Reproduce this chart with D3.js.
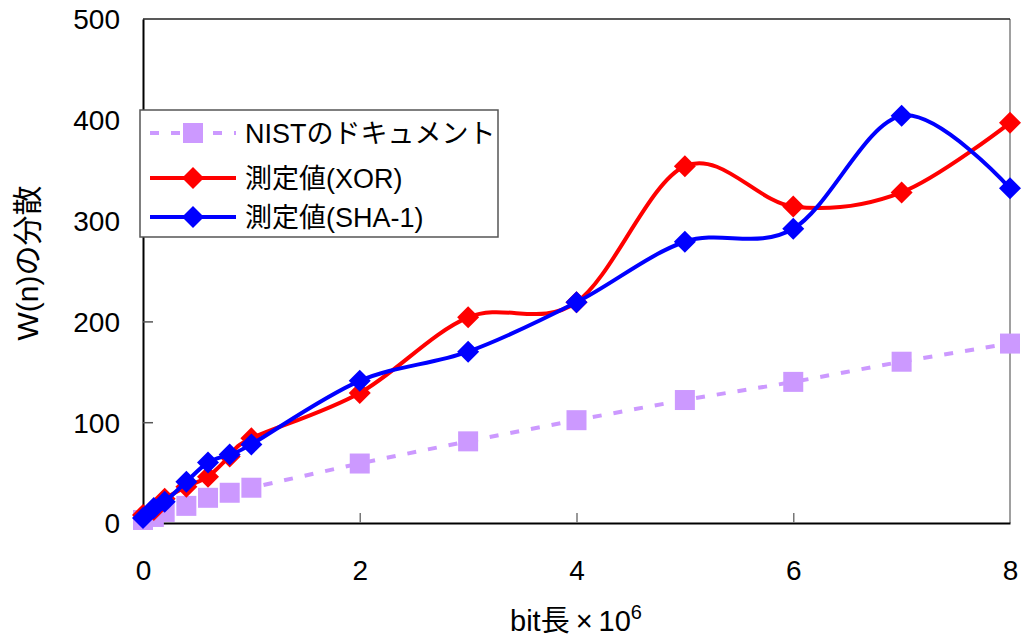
<!DOCTYPE html>
<html>
<head>
<meta charset="utf-8">
<script src="https://cdn.jsdelivr.net/npm/d3@7"></script>
<style>
    body { margin: 0; background: #fff; }
    text { font-family: "Liberation Sans", "Noto Sans CJK JP", sans-serif; fill: #000; }
</style>
</head>
<body>
<div id="chart"></div>
<script>
// data
const nistX = [0, 0.1, 0.2, 0.4, 0.6, 0.8, 1, 2, 3, 4, 5, 6, 7, 8]
const nistValues = [3, 6, 11, 17, 25, 30, 35, 59, 81, 102, 122, 140, 160, 178]
const measuredX = [0, 0.1, 0.2, 0.4, 0.6, 0.8, 1, 2, 3, 4, 5, 6, 7, 8]
const xorValues = [8, 13, 24, 36, 46, 66, 84, 129, 204, 219, 354, 314, 328, 397]
const shaValues = [5, 15, 21, 41, 60, 68, 78, 141, 170, 219, 279, 292, 404, 332]
const xTicks = [0, 2, 4, 6, 8]
const yTicks = [0, 100, 200, 300, 400, 500]
const seriesNames = ["NISTのドキュメント", "測定値(XOR)", "測定値(SHA-1)"]

const xorColor = "#FF0000"
const shaColor = "#0000FF"
const nistColor = "#CC99FF"

//dimensions
let dimensions = {
    width: 1021,
    height: 641,
    margin: {top: 19, right: 11, bottom: 118, left: 143},
}

//canvas
const wrapper = d3.select("#chart")
    .append("svg")
    .attr("width", dimensions.width)
    .attr("height", dimensions.height)
const bounds = wrapper.append("g")

//scales
const xScale = d3.scaleLinear()
    .domain([0, 8])
    .range([dimensions.margin.left, dimensions.width - dimensions.margin.right])
const yScale = d3.scaleLinear()
    .domain([0, 500])
    .range([dimensions.height - dimensions.margin.bottom, dimensions.margin.top])
const plotBottom = yScale(0)
const plotTop = yScale(500)

// frame
bounds.append("line")
    .attr("x1", xScale(8)).attr("x2", xScale(8))
    .attr("y1", plotTop).attr("y2", plotBottom)
    .attr("stroke", "#808080").attr("stroke-width", 1.5)
bounds.append("line")
    .attr("x1", xScale(0)).attr("x2", xScale(8))
    .attr("y1", plotTop).attr("y2", plotTop)
    .attr("stroke", "#222").attr("stroke-width", 1.5)

// axes (ticks pointing inward)
const yAxis = bounds.append("g")
    .attr("transform", "translate(" + xScale(0) + ",0)")
    .call(d3.axisLeft(yScale).tickValues(yTicks).tickSizeInner(-10).tickSizeOuter(0).tickPadding(23))
yAxis.select(".domain").attr("stroke", "#000").attr("stroke-width", 2)
yAxis.selectAll(".tick line").attr("stroke", "#555").attr("stroke-width", 1.5)
yAxis.selectAll(".tick text").attr("font-size", 28).attr("dy", "0.35em")

const xAxis = bounds.append("g")
    .attr("transform", "translate(0," + plotBottom + ")")
    .call(d3.axisBottom(xScale).tickValues(xTicks).tickSizeInner(-10).tickSizeOuter(0).tickPadding(37))
xAxis.select(".domain").attr("stroke", "#000").attr("stroke-width", 2)
xAxis.selectAll(".tick line").attr("stroke", "#777").attr("stroke-width", 1.5)
xAxis.selectAll(".tick text").attr("font-size", 28).attr("dy", "0.71em")
xAxis.selectAll(".tick").filter(d => d === 0 || d === 8).select("line").remove()
yAxis.selectAll(".tick").filter(d => d === 0 || d === 500).select("line").remove()

// axis titles
bounds.append("text")
    .attr("x", 576).attr("y", 631)
    .attr("text-anchor", "middle")
    .attr("font-size", 29)
    .html('bit長<tspan dx="6">×</tspan><tspan dx="6">10</tspan><tspan font-size="20" dy="-12">6</tspan>')
bounds.append("text")
    .attr("transform", "translate(38,263) rotate(-90)")
    .attr("text-anchor", "middle")
    .attr("font-size", 30)
    .text("W(n)の分散")

// draw data
const lineGenerator = d3.line()
    .x(d => xScale(d[0]))
    .y(d => yScale(d[1]))
    .curve(d3.curveCardinal.tension(0))

const diamond = (r) => "M0," + (-r) + "L" + r + ",0L0," + r + "L" + (-r) + ",0Z"

const nistData = d3.zip(nistX, nistValues)
const xorData = d3.zip(measuredX, xorValues)
const shaData = d3.zip(measuredX, shaValues)

bounds.append("path")
    .attr("d", lineGenerator(nistData))
    .attr("fill", "none")
    .attr("stroke", nistColor)
    .attr("stroke-width", 4)
    .attr("stroke-dasharray", "9,12")
bounds.selectAll(".nist-marker")
    .data(nistData)
    .join("rect")
    .attr("class", "nist-marker")
    .attr("x", d => xScale(d[0]) - 10)
    .attr("y", d => yScale(d[1]) - 10)
    .attr("width", 20)
    .attr("height", 20)
    .attr("fill", nistColor)

function drawSeries(dataset, color) {
    bounds.append("path")
        .attr("d", lineGenerator(dataset))
        .attr("fill", "none")
        .attr("stroke", color)
        .attr("stroke-width", 4)
    bounds.append("g")
        .selectAll("path")
        .data(dataset)
        .join("path")
        .attr("transform", d => "translate(" + xScale(d[0]) + "," + yScale(d[1]) + ")")
        .attr("d", diamond(11))
        .attr("fill", color)
}
drawSeries(xorData, xorColor)
drawSeries(shaData, shaColor)

// legend
const legend = bounds.append("g")
legend.append("rect")
    .attr("x", 140).attr("y", 110)
    .attr("width", 358).attr("height", 127)
    .attr("fill", "#fff")
    .attr("stroke", "#555")
    .attr("stroke-width", 1.5)
const legendRows = [133, 178, 217]
const legendColors = [nistColor, xorColor, shaColor]
legendRows.forEach((rowY, i) => {
    legend.append("line")
        .attr("x1", 150).attr("x2", 236)
        .attr("y1", rowY).attr("y2", rowY)
        .attr("stroke", legendColors[i])
        .attr("stroke-width", 4)
        .attr("stroke-dasharray", i === 0 ? "9,12" : null)
    if (i === 0) {
        legend.append("rect")
            .attr("x", 183).attr("y", rowY - 10)
            .attr("width", 20).attr("height", 20)
            .attr("fill", nistColor)
    } else {
        legend.append("path")
            .attr("transform", "translate(193," + rowY + ")")
            .attr("d", diamond(11))
            .attr("fill", legendColors[i])
    }
    legend.append("text")
        .attr("x", 245).attr("y", rowY)
        .attr("dy", "0.36em")
        .attr("font-size", 27)
        .text(seriesNames[i])
})
</script>
</body>
</html>
